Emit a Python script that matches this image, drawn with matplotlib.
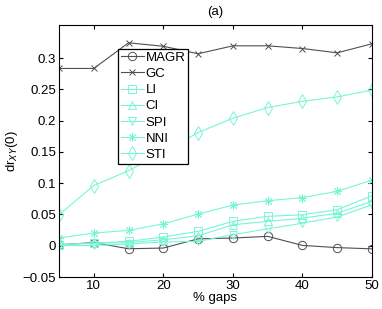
import matplotlib
matplotlib.use("Agg")
import matplotlib.pyplot as plt

plt.rcParams['font.family'] = ['Liberation Sans', 'DejaVu Sans']

gaps = [5, 10, 15, 20, 25, 30, 35, 40, 45, 50]

magr = [0.0015, 0.005, -0.0048, -0.0037, 0.011, 0.0123, 0.015, 0.0005, -0.003, -0.005]
gc = [0.2835, 0.2835, 0.3245, 0.319, 0.307, 0.3197, 0.3197, 0.3154, 0.3085, 0.323]
li = [0.0016, 0.0043, 0.007, 0.014, 0.023, 0.039, 0.047, 0.0495, 0.0575, 0.080]
ci = [0.0015, 0.004, 0.005, 0.0096, 0.016, 0.0335, 0.039, 0.044, 0.052, 0.071]
spi = [0.0, 0.0005, 0.0027, 0.006, 0.007, 0.0176, 0.027, 0.036, 0.046, 0.0655]
nni = [0.0123, 0.0203, 0.0245, 0.035, 0.0506, 0.065, 0.072, 0.077, 0.087, 0.105]
sti = [0.0495, 0.0963, 0.120, 0.150, 0.181, 0.204, 0.221, 0.231, 0.238, 0.249]

# asterisk like matlab's '*': 8 arms
series = [
    ("MAGR", magr, 'o'),
    ("GC", gc, 'x'),
    ("LI", li, 's'),
    ("CI", ci, '^'),
    ("SPI", spi, 'v'),
    ("NNI", nni, (8, 2, 0)),
    ("STI", sti, 'd'),
]

gray = '#505050'
cyan = '#78f5d5'
fs = 9.5

fig = plt.figure(figsize=(3.82, 3.09), dpi=100)
ax = fig.add_axes([59 / 382, 32 / 309, 313 / 382, 252 / 309])

for name, vals, m in series:
    col = gray if name in ("MAGR", "GC") else cyan
    ms = 6
    if m == 'x':
        ms = 4
    if m == 'd':
        ms = 7
    ax.plot(gaps, vals, color=col, marker=m, markersize=ms, markerfacecolor='none',
            markeredgecolor=col, linewidth=0.8, markeredgewidth=0.7, label=name)

ax.set_xlim(5, 50)
ax.set_ylim(-0.05, 0.353)
ax.set_xticks([10, 20, 30, 40, 50])
ax.set_yticks([-0.05, 0, 0.05, 0.1, 0.15, 0.2, 0.25, 0.3])
ax.set_yticklabels(['\u22120.05', '0', '0.05', '0.1', '0.15', '0.2', '0.25', '0.3'])
ax.tick_params(direction='in', top=True, right=True, labelsize=fs, length=3, pad=2)
for sp in ax.spines.values():
    sp.set_linewidth(0.8)

ax.set_xlabel('% gaps', fontsize=fs, labelpad=0)
ax.set_ylabel(r'dr$_{XY}$(0)', fontsize=fs, labelpad=2)
ax.set_title('(a)', fontsize=fs, pad=7)

leg = ax.legend(loc='upper left', bbox_to_anchor=(0.19, 0.905), fontsize=fs,
                frameon=True, fancybox=False, edgecolor='black', framealpha=1,
                handlelength=1.7, handletextpad=0.15, labelspacing=0.3, borderpad=0.2,
                borderaxespad=0)
leg.get_frame().set_linewidth(0.9)

fig.savefig('out.png', dpi=100)
